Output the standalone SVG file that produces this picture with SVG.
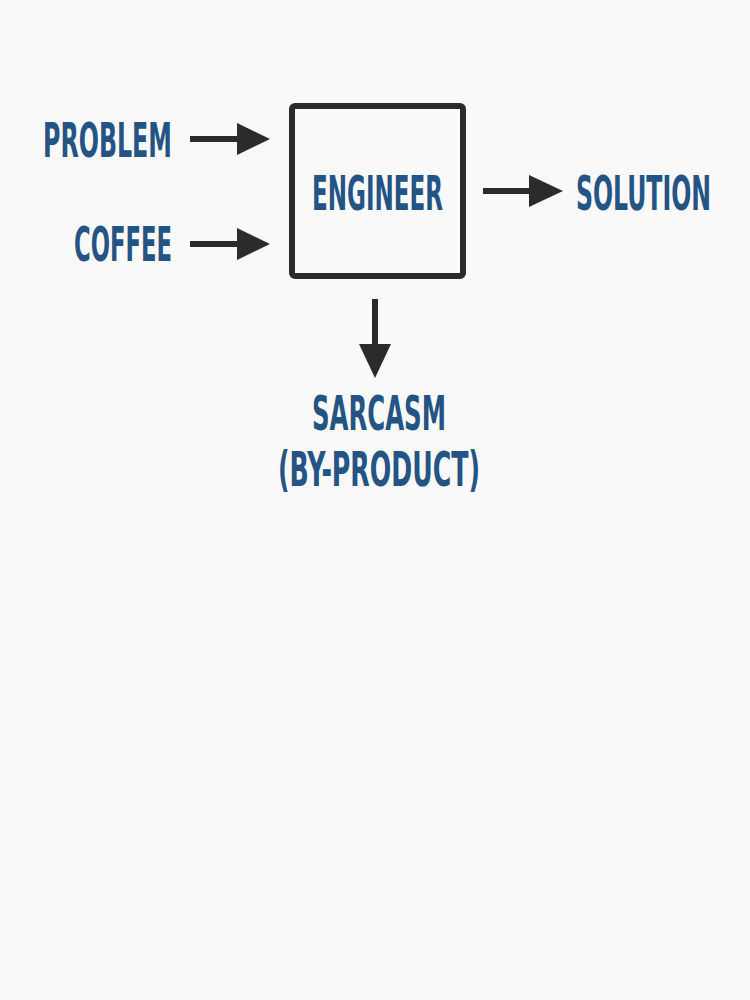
<svg xmlns="http://www.w3.org/2000/svg" width="750" height="1000" viewBox="0 0 750 1000">
<style>
.lbl{font-family:"DejaVu Sans Condensed","DejaVu Sans","Liberation Sans",sans-serif;font-weight:700;font-size:48px;fill:#245484}
.ln{stroke:#2b2b2b;stroke-width:6;fill:none}
.hd{fill:#2b2b2b}
</style>
<rect width="750" height="1000" fill="#f9f9f9"/>
<g id="connectors">
<line class="ln" x1="190" y1="139" x2="240" y2="139"/><polygon class="hd" points="237,123 270,139 237,155"/>
<line class="ln" x1="190" y1="244" x2="240" y2="244"/><polygon class="hd" points="237,228 270,244 237,260"/>
<line class="ln" x1="483" y1="191" x2="532" y2="191"/><polygon class="hd" points="529,175 563,191 529,207"/>
<line class="ln" x1="375" y1="299" x2="375" y2="347"/><polygon class="hd" points="359,344 375,378 391,344"/>
</g>
<g id="problem"><text class="lbl" x="43" y="157" textLength="129" lengthAdjust="spacingAndGlyphs">PROBLEM</text></g>
<g id="coffee"><text class="lbl" x="74" y="261" textLength="98" lengthAdjust="spacingAndGlyphs">COFFEE</text></g>
<g id="engineer"><rect x="292" y="106" width="171" height="170" rx="3" fill="none" stroke="#2b2b2b" stroke-width="6"/><text class="lbl" x="312" y="210" textLength="131" lengthAdjust="spacingAndGlyphs">ENGINEER</text></g>
<g id="solution"><text class="lbl" x="576" y="210" textLength="135" lengthAdjust="spacingAndGlyphs">SOLUTION</text></g>
<g id="sarcasm"><text class="lbl" x="312" y="430" textLength="134" lengthAdjust="spacingAndGlyphs">SARCASM</text><text class="lbl" x="278" y="486" textLength="202" lengthAdjust="spacingAndGlyphs">(BY-PRODUCT)</text></g>
</svg>
